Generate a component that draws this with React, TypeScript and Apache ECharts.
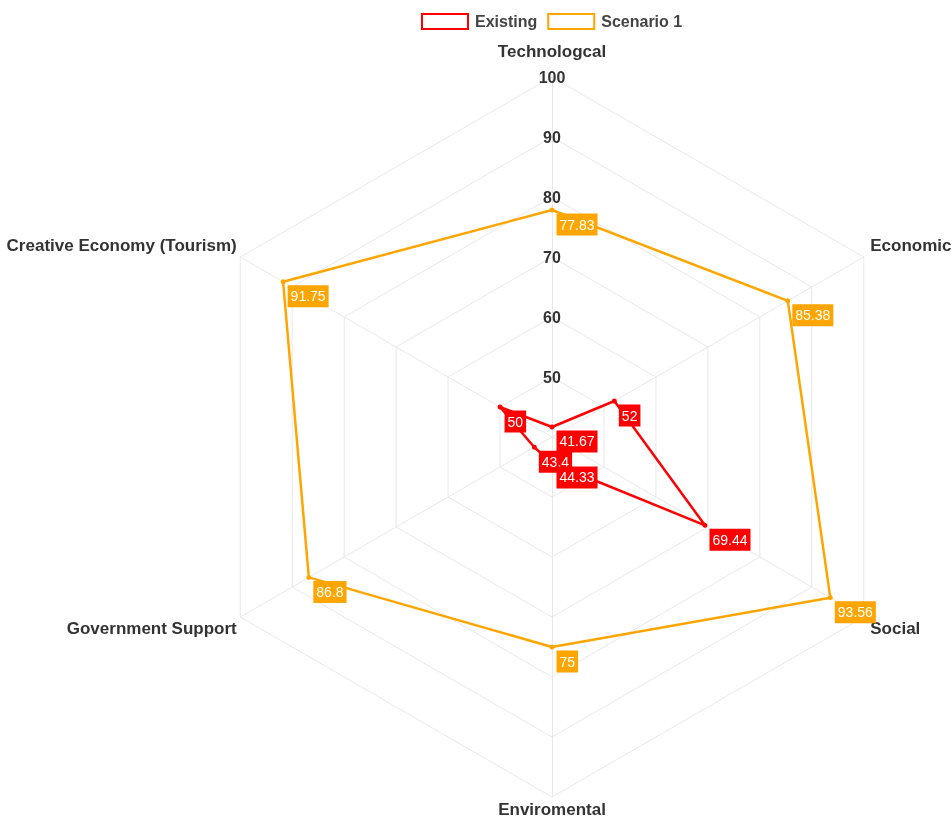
import React, { useEffect, useRef } from "react";
import * as echarts from "echarts";

// Indicators listed counter-clockwise starting from the top (ECharts radar order)
const indicatorNames = [
  "Technologcal",
  "Creative Economy (Tourism)",
  "Government Support",
  "Enviromental",
  "Social",
  "Economic",
];
const existingValues = [41.67, 50, 43.4, 44.33, 69.44, 52];
const scenario1Values = [77.83, 91.75, 86.8, 75, 93.56, 85.38];
const seriesNames = ["Existing", "Scenario 1"];
const axisMin = 40;
const axisMax = 100;

const RED = "#ff0000";
const ORANGE = "#ffa500";
const FONT = "'Liberation Sans', Arial, sans-serif";

// rich style key per indicator (by position around the radar)
const nameStyleKeys = ["top", "upperLeft", "lowerLeft", "bottom", "lowerRight", "upperRight"];

export default function App() {
  const ref = useRef<HTMLDivElement>(null);
  useEffect(() => {
    if (!ref.current) return;
    const chart = echarts.init(ref.current, undefined, { renderer: "svg" });
    const mkLabel = (color: string) => ({
      show: true,
      position: [7, 6],
      align: "left",
      verticalAlign: "top",
      color: "#fff",
      backgroundColor: color,
      padding: [4, 3, 4, 3],
      fontSize: 14,
      fontFamily: FONT,
    });
    const nameStyle = { fontSize: 17, fontWeight: "bold", color: "#333", fontFamily: FONT };
    chart.setOption({
      animation: false,
      legend: {
        top: 8,
        left: 416,
        itemWidth: 46,
        itemHeight: 15,
        itemGap: 10,
        icon: "rect",
        textStyle: { fontSize: 16, fontWeight: "bold", color: "#444", fontFamily: FONT, padding: [0, 0, 0, 2] },
        data: [
          { name: seriesNames[0], itemStyle: { color: "#fff", borderColor: RED, borderWidth: 2 } },
          { name: seriesNames[1], itemStyle: { color: "#fff", borderColor: ORANGE, borderWidth: 2 } },
        ],
      },
      radar: {
        center: [552, 437],
        radius: 360,
        shape: "polygon",
        splitNumber: 6,
        nameGap: 4,
        axisName: {
          ...nameStyle,
          formatter: (name: string) => {
            const i = indicatorNames.indexOf(name);
            return `{${nameStyleKeys[i]}|${name}}`;
          },
          rich: {
            top: { ...nameStyle, padding: [0, 0, 13, 0] },
            upperLeft: { ...nameStyle, padding: [0, 0, 20, 0] },
            lowerLeft: { ...nameStyle, padding: [18, 0, 0, 0] },
            bottom: { ...nameStyle },
            lowerRight: { ...nameStyle, padding: [18, 0, 0, 3] },
            upperRight: { ...nameStyle, padding: [0, 0, 20, 3] },
          },
        },
        splitLine: { lineStyle: { color: "#e8e8e8", width: 1 } },
        splitArea: { show: false },
        axisLine: { lineStyle: { color: "#e8e8e8", width: 1 } },
        axisLabel: { show: false },
        indicator: indicatorNames.map((n, i) => ({
          name: n,
          min: axisMin,
          max: axisMax,
          ...(i === 0
            ? {
                axisLabel: {
                  show: true,
                  showMinLabel: false,
                  align: "center",
                  verticalAlign: "middle",
                  margin: 0,
                  fontSize: 16,
                  fontWeight: "bold",
                  color: "#333",
                  fontFamily: FONT,
                },
              }
            : {}),
        })),
      },
      series: [
        {
          type: "radar",
          z: 2,
          data: [
            {
              name: seriesNames[0],
              value: existingValues,
              symbol: "circle",
              symbolSize: 5,
              itemStyle: { color: RED },
              lineStyle: { color: RED, width: 2.5 },
              label: mkLabel(RED),
            },
          ],
        },
        {
          type: "radar",
          z: 3,
          data: [
            {
              name: seriesNames[1],
              value: scenario1Values,
              symbol: "circle",
              symbolSize: 5,
              itemStyle: { color: ORANGE },
              lineStyle: { color: ORANGE, width: 2.5 },
              label: mkLabel(ORANGE),
            },
          ],
        },
      ],
    });
    return () => chart.dispose();
  }, []);
  return (
    <div
      ref={ref}
      style={{ position: "fixed", left: 0, top: 0, width: 952, height: 821 }}
    />
  );
}
